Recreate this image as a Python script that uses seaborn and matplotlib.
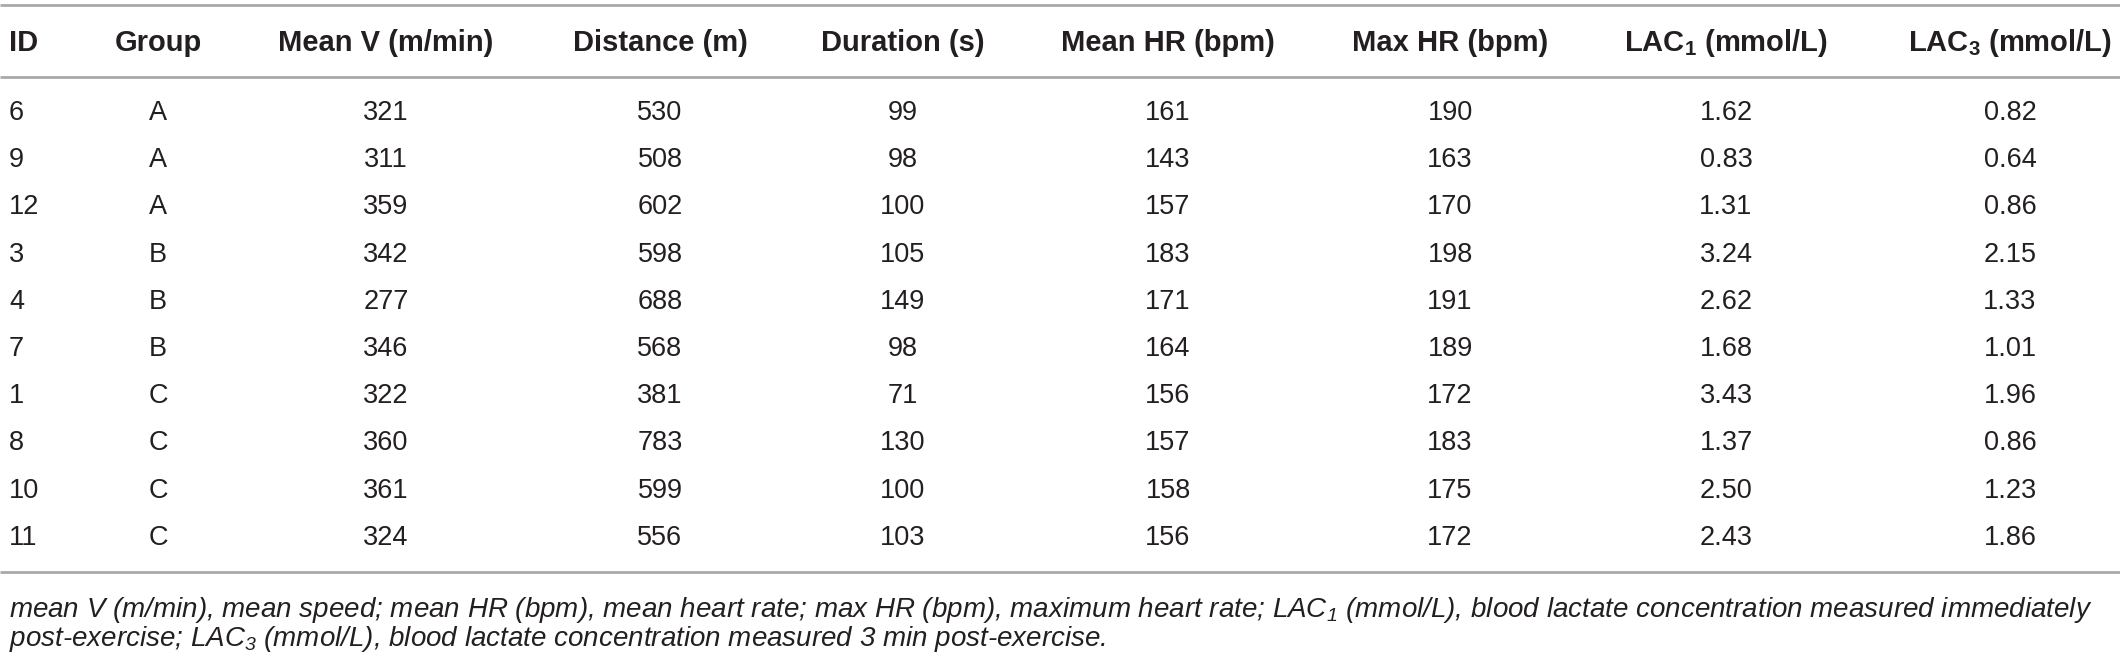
import matplotlib
matplotlib.use("Agg")
import matplotlib.pyplot as plt
import seaborn as sns
import pandas as pd

# table values
ids = [6, 9, 12, 3, 4, 7, 1, 8, 10, 11]
groups = ["A", "A", "A", "B", "B", "B", "C", "C", "C", "C"]
mean_v = [321, 311, 359, 342, 277, 346, 322, 360, 361, 324]
distance = [530, 508, 602, 598, 688, 568, 381, 783, 599, 556]
duration = [99, 98, 100, 105, 149, 98, 71, 130, 100, 103]
mean_hr = [161, 143, 157, 183, 171, 164, 156, 157, 158, 156]
max_hr = [190, 163, 170, 198, 191, 189, 172, 183, 175, 172]
lac1 = [1.62, 0.83, 1.31, 3.24, 2.62, 1.68, 3.43, 1.37, 2.50, 2.43]
lac3 = [0.82, 0.64, 0.86, 2.15, 1.33, 1.01, 1.96, 0.86, 1.23, 1.86]

headers = ["ID", "Group", "Mean V (m/min)", "Distance (m)", "Duration (s)",
           "Mean HR (bpm)", "Max HR (bpm)", "LAC$_1$ (mmol/L)", "LAC$_3$ (mmol/L)"]
footnote = ["mean V (m/min), mean speed; mean HR (bpm), mean heart rate; max HR (bpm), "
            "maximum heart rate; LAC$_1$ (mmol/L), blood lactate concentration measured immediately",
            "post-exercise; LAC$_3$ (mmol/L), blood lactate concentration measured 3 min post-exercise."]

df = pd.DataFrame({"ID": ids, "Group": groups, "Mean V": mean_v, "Distance": distance,
                   "Duration": duration, "Mean HR": mean_hr, "Max HR": max_hr,
                   "LAC1": [f"{v:.2f}" for v in lac1], "LAC3": [f"{v:.2f}" for v in lac3]})

sns.set_theme(style="white")
plt.rcParams["font.family"] = ["Liberation Sans", "DejaVu Sans"]
plt.rcParams["mathtext.fontset"] = "custom"
plt.rcParams["mathtext.default"] = "regular"
plt.rcParams["mathtext.rm"] = "Liberation Sans"

fig = plt.figure(figsize=(21.2, 6.6), dpi=100)
ax = fig.add_axes([0, 0, 1, 1])
ax.set_xlim(0, 2120)
ax.set_ylim(660, 0)
ax.axis("off")

txt = "#231f20"
col_x = [9, 158, 386, 660, 903, 1168, 1450, 1726, 2010]
align = ["left"] + ["center"] * 8

# rules
ax.hlines([5, 77, 572], 0, 2120, color="#a7a9ac", lw=2)

for x, h, ha in zip(col_x, headers, align):
    ax.text(x, 43, h, ha=ha, va="center", fontsize=21, fontweight="bold", color=txt)

y0, dy = 113, 47.2
for i, row in enumerate(df.itertuples(index=False)):
    y = y0 + i * dy
    for x, v, ha in zip(col_x, row, align):
        ax.text(x, y, str(v), ha=ha, va="center", fontsize=19.5, color=txt)

ax.text(9, 610, footnote[0], ha="left", va="center", fontsize=20, style="italic", color=txt)
ax.text(9, 639, footnote[1], ha="left", va="center", fontsize=20, style="italic", color=txt)

fig.savefig("out.png", dpi=100)
